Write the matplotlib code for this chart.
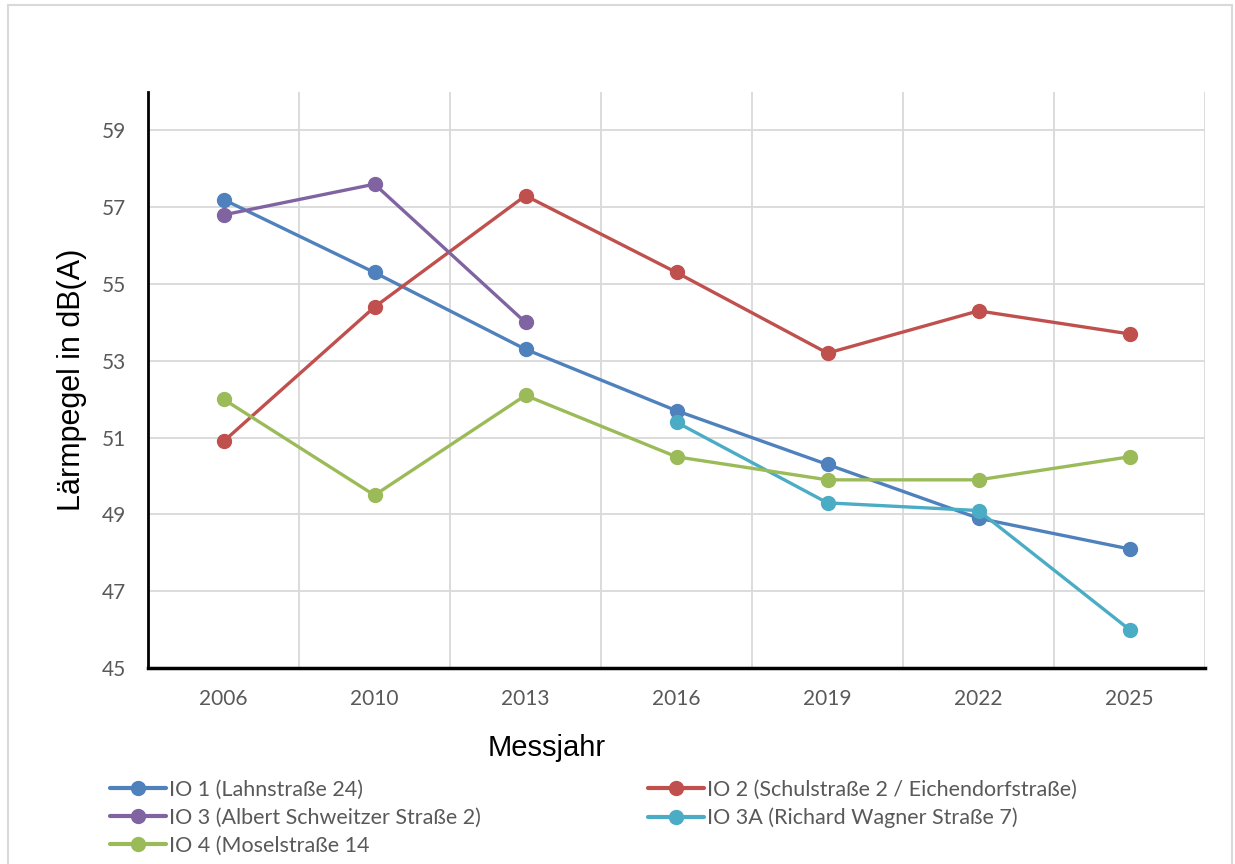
import matplotlib
matplotlib.use("Agg")
import matplotlib.pyplot as plt
from matplotlib.patches import Rectangle
import numpy as np

# Daten
years = ["2006", "2010", "2013", "2016", "2019", "2022", "2025"]
io1 = [57.2, 55.3, 53.3, 51.7, 50.3, 48.9, 48.1]
io2 = [50.9, 54.4, 57.3, 55.3, 53.2, 54.3, 53.7]
io3 = [56.8, 57.6, 54.0, None, None, None, None]
io3a = [None, None, None, 51.4, 49.3, 49.1, 46.0]
io4 = [52.0, 49.5, 52.1, 50.5, 49.9, 49.9, 50.5]

labels = [
    "IO 1 (Lahnstraße 24)",
    "IO 2 (Schulstraße 2 / Eichendorfstraße)",
    "IO 3 (Albert Schweitzer Straße 2)",
    "IO 3A (Richard Wagner Straße 7)",
    "IO 4 (Moselstraße 14",
]
colors = ["#4F81BD", "#C0504D", "#8064A2", "#4BACC6", "#9BBB59"]
y_ticks = [45, 47, 49, 51, 53, 55, 57, 59]

W, H = 1235, 864
fig = plt.figure(figsize=(W / 100, H / 100), dpi=100)
ax = fig.add_axes([148 / W, 1 - 668 / H, (1205 - 148) / W, (668 - 92) / H])

x = np.arange(len(years))
series = [io1, io2, io3, io3a, io4]
handles = []
for vals, lab, col in zip(series, labels, colors):
    y = np.array([np.nan if v is None else v for v in vals], dtype=float)
    h, = ax.plot(x, y, color=col, linewidth=2.4, marker="o", markersize=10,
                 label=lab, solid_capstyle="round")
    handles.append(h)

ax.set_xlim(-0.5, len(years) - 0.5)
ax.set_ylim(45, 60)
ax.set_yticks(y_ticks)
ax.set_xticks(x)
ax.set_xticklabels(years)
ax.tick_params(length=0, labelsize=15, labelcolor="#595959")
ax.tick_params(axis="x", pad=15)
ax.tick_params(axis="y", pad=16)
for t in ax.get_xticklabels() + ax.get_yticklabels():
    t.set_family(["Lato", "DejaVu Sans"])

# Gitter
for yv in y_ticks[1:]:
    ax.axhline(yv, color="#d9d9d9", linewidth=1.3, zorder=0)
for xv in np.arange(0.5, len(years), 1.0):
    ax.axvline(xv, color="#d9d9d9", linewidth=1.3, zorder=0)

for s in ["top", "right"]:
    ax.spines[s].set_visible(False)
ax.spines["left"].set_linewidth(2)
ax.spines["bottom"].set_linewidth(2.5)

fig.text(72 / W, 1 - 380 / H, "Lärmpegel in dB(A)", rotation=90, fontsize=22,
         family="Liberation Sans", ha="center", va="center")
fig.text(547 / W, 1 - 748 / H, "Messjahr", fontsize=21,
         family="Liberation Sans", ha="center", va="center")

# Legende in zwei Spalten (als zwei Legenden gesetzt)
def add_legend(idx, x_px):
    leg = fig.legend([handles[i] for i in idx], [labels[i] for i in idx],
                     loc="upper left", bbox_to_anchor=(x_px / W, 1 - 780 / H),
                     frameon=False, fontsize=15.5, handlelength=2.6,
                     handletextpad=0.15, labelspacing=0.36,
                     borderaxespad=0, borderpad=0)
    for t in leg.get_texts():
        t.set_color("#595959")
        t.set_family(["Lato", "DejaVu Sans"])
    for ln in leg.get_lines():
        ln.set_linewidth(3)
    return leg

add_legend([0, 2, 4], 110)
add_legend([1, 3], 648)

# Rahmen
fig.patches.append(Rectangle((8 / W, -0.1), (1232 - 8) / W, 1.1 - 5 / H,
                             transform=fig.transFigure, fill=False,
                             edgecolor="#d9d9d9", linewidth=1.5))

fig.savefig("out.png", dpi=100)
